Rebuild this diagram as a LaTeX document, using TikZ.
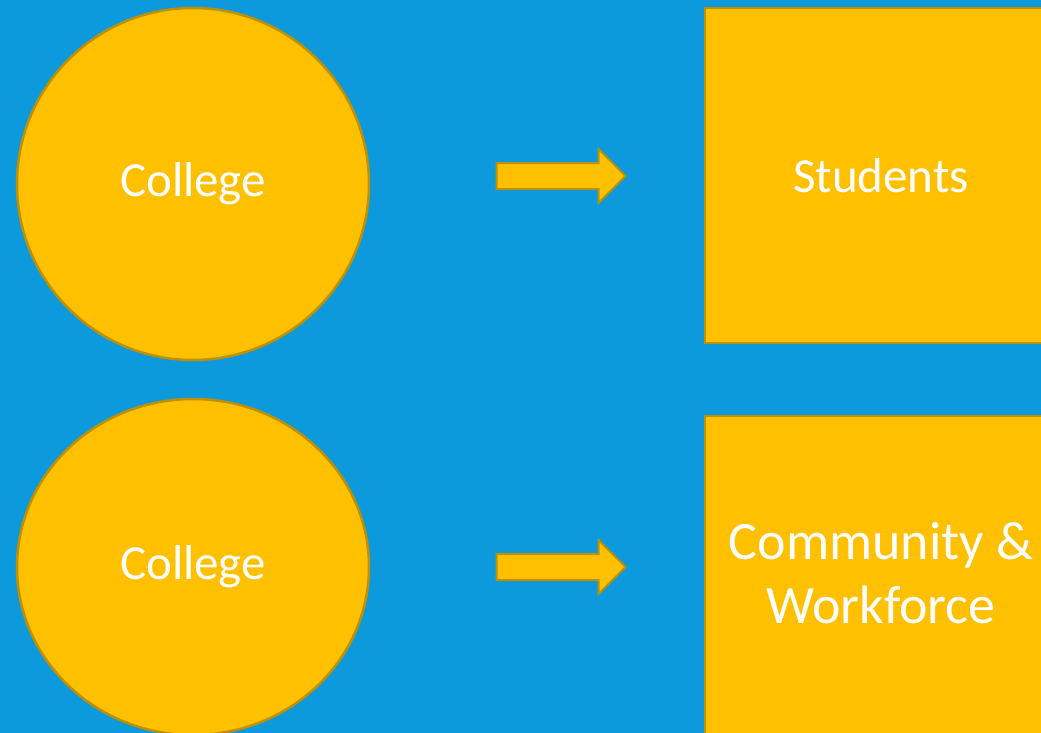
\documentclass[tikz,border=0pt]{standalone}
\usepackage{fontspec}
\setmainfont{Carlito}
\usetikzlibrary{shapes.geometric,shapes.arrows}
\definecolor{bgblue}{HTML}{0C9ADD}
\definecolor{gold}{HTML}{FFC000}
\definecolor{goldline}{HTML}{BF9000}
\tikzset{
  shapebase/.style={fill=gold, draw=goldline, line width=2.5pt, text=white, font=\fontsize{49}{64}\selectfont, inner sep=0pt},
  circ/.style={shapebase, ellipse, minimum width=352pt, minimum height=352pt},
  boxnode/.style={shapebase, rectangle, minimum width=352pt, minimum height=335pt},
  txt/.style={text=white, font=\fontsize{54}{64}\selectfont, align=center, inner sep=0pt},
  fatarrow/.style={shapebase, single arrow, minimum height=129pt, minimum width=52pt, single arrow head extend=14pt, inner xsep=0pt, inner ysep=12pt, line width=2pt}
}
\begin{document}
\begin{tikzpicture}[x=1pt,y=-1pt]
\useasboundingbox (0,0) rectangle (1041,733);
\fill[bgblue] (0,0) rectangle (1041,733);
\begin{scope}
\clip (0,0) rectangle (1041,733);
\node[circ] (c1) at (193,184) {College};
\node[circ, minimum height=336pt] (c2) at (193,567) {College};
\node[boxnode] (b1) at (881,175.5) {Students};
\node[boxnode] (b2) at (881,583.5) {};
\node[txt] (t2) at (881,573) {Community \&\\Workforce};
\node[fatarrow] (a1) at (554.5,176) {};
\node[fatarrow] (a2) at (554.5,567) {};
\end{scope}
\end{tikzpicture}
\end{document}
